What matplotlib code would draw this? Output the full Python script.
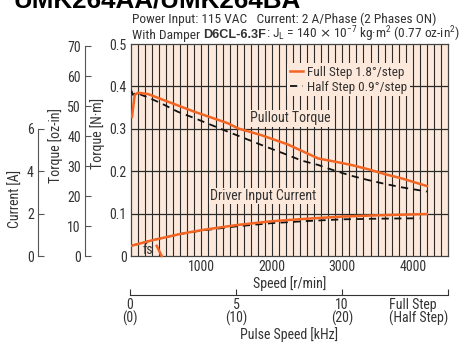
import matplotlib
matplotlib.use("Agg")
import matplotlib.pyplot as plt
from matplotlib import font_manager as fm

# pullout torque [N·m] vs speed [r/min]
speed_full = [14, 53, 99, 241, 430, 904, 1377, 1519, 1850, 2229, 2423, 2659, 2896, 3133, 3369, 3606, 3843, 4200]
torque_full = [0.328, 0.380, 0.385, 0.382, 0.370, 0.340, 0.313, 0.301, 0.285, 0.263, 0.248, 0.230, 0.2225, 0.2145, 0.2045, 0.193, 0.183, 0.165]
speed_half = [4, 28, 75, 146, 241, 430, 667, 904, 1140, 1377, 1614, 1850, 2186, 2423, 2659, 2896, 3133, 3369, 3606, 3843, 4200]
torque_half = [0.390, 0.380, 0.386, 0.380, 0.374, 0.360, 0.340, 0.325, 0.309, 0.293, 0.2775, 0.262, 0.2406, 0.225, 0.2146, 0.201, 0.189, 0.179, 0.170, 0.162, 0.152]

# driver input current [A]
speed_cur_full = [0, 300, 700, 1000, 1500, 2000, 2500, 3000, 3500, 4200]
current_full = [0.48, 0.74, 1.04, 1.22, 1.46, 1.64, 1.76, 1.86, 1.92, 1.98]
speed_cur_half = [0, 300, 700, 1000, 1500, 2000, 2500, 3000, 3500, 4100]
current_half = [0.48, 0.74, 1.04, 1.20, 1.40, 1.55, 1.65, 1.73, 1.76, 1.78]

# start frequency marker
fs_speed = [365, 435]
fs_torque = [0.024, 0.0]

speed_ticks = [1000, 2000, 3000, 4000]
nm_ticks = [0, 0.1, 0.2, 0.3, 0.4, 0.5]
nm_labels = ["0", "0.1", "0.2", "0.3", "0.4", "0.5"]
ozin_ticks = [0, 10, 20, 30, 40, 50, 60, 70]
amp_ticks = [0, 2, 4, 6]
khz_ticks = [0, 5, 10, 15]
khz_labels = ["0\n(0)", "5\n(10)", "10\n(20)", "Full Step\n(Half Step)"]

installed = {f.name for f in fm.fontManager.ttflist}
FONT = next((f for f in ["Roboto Condensed", "Archivo Narrow", "PT Sans Narrow",
                         "Sofia Sans Semi Condensed", "Liberation Sans Narrow", "Roboto"]
             if f in installed), "DejaVu Sans")
plt.rcParams["font.family"] = [FONT, "DejaVu Sans"]
TXT = "#333333"
ORANGE = "#f26522"
BG = "#fde9dc"
FS = 10

W, H = 465, 342
fig = plt.figure(figsize=(W / 100, H / 100), dpi=100)

left, right, top, bottom = 131, 448, 44, 256
ax = fig.add_axes([left / W, 1 - bottom / H, (right - left) / W, (bottom - top) / H])
ax.set_facecolor(BG)
ax.set_xlim(0, 4500)
ax.set_ylim(0, 0.5)
for x in range(100, 4500, 100):
    ax.axvline(x, color="#2a2a2a", lw=0.8, zorder=1)
for y in nm_ticks[1:-1]:
    ax.axhline(y, color="#2a2a2a", lw=0.9, zorder=1)
for s in ax.spines.values():
    s.set_color("#444444")
    s.set_linewidth(0.9)
ax.set_xticks(speed_ticks)
ax.set_yticks(nm_ticks)
ax.set_yticklabels(nm_labels)
ax.tick_params(length=0, labelsize=FS, colors=TXT, pad=3)
ax.set_xlabel("Speed [r/min]", fontsize=FS, color=TXT, labelpad=1)
ax.set_ylabel("Torque [N·m]", fontsize=FS, color=TXT, labelpad=3, y=0.58)

ax.plot(speed_full, torque_full, color=ORANGE, lw=1.8, zorder=4, label="Full Step 1.8°/step")
ax.plot(speed_half, torque_half, color="#111111", lw=1.3, ls=(0, (4, 3)), zorder=3, label="Half Step 0.9°/step")
cur_to_nm = 0.5 / 10
ax.plot(speed_cur_full, [c * cur_to_nm for c in current_full], color=ORANGE, lw=1.8, zorder=4)
ax.plot(speed_cur_half, [c * cur_to_nm for c in current_half], color="#111111", lw=1.3, ls=(0, (4, 3)), zorder=3)
ax.plot(fs_speed, fs_torque, color=ORANGE, lw=1.8, zorder=4, clip_on=False)

ax.text(234, 0.013, "fs", fontsize=FS, color=TXT, ha="center", va="center", zorder=5)
box = dict(facecolor=BG, edgecolor="none", pad=1)
ax.text(2257, 0.325, "Pullout Torque", fontsize=FS, color=TXT, ha="center", va="center", bbox=box, zorder=5)
ax.text(1874, 0.1415, "Driver Input Current", fontsize=FS, color=TXT, ha="center", va="center", bbox=box, zorder=5)

leg = ax.legend(loc="upper right", bbox_to_anchor=(0.88, 0.91), fontsize=FS - 0.5, frameon=True,
                handlelength=1.0, handletextpad=0.3, borderpad=0.2, labelspacing=0.15,
                borderaxespad=0)
leg.get_frame().set_facecolor(BG)
leg.get_frame().set_edgecolor("none")
leg.get_frame().set_alpha(1)
leg.set_zorder(6)
for t in leg.get_texts():
    t.set_color(TXT)


def side_axis(ylim, spine_x, bounds, ticks, label, label_y):
    a = ax.twinx()
    a.set_ylim(*ylim)
    a.spines["left"].set_position(("axes", (spine_x - left) / (right - left)))
    a.spines["left"].set_bounds(*bounds)
    a.spines["left"].set_color("#555555")
    for k in ("right", "top", "bottom"):
        a.spines[k].set_visible(False)
    a.yaxis.set_ticks_position("left")
    a.yaxis.set_label_position("left")
    a.set_yticks(ticks)
    a.tick_params(axis="y", direction="in", length=4, labelsize=FS, colors=TXT, pad=3, color="#555555")
    a.set_ylabel(label, fontsize=FS, color=TXT, labelpad=3, y=label_y)
    return a


side_axis((0, 0.5 * 141.612), 85, (0, 70), ozin_ticks, "Torque [oz-in]", 0.52)
side_axis((0, 10), 38, (0, 6), amp_ticks, "Current [A]", 0.27)

# pulse speed axis
ax_k = fig.add_axes([130 / W, 1 - 295 / H, (448 - 130) / W, 0.001])
ax_k.set_xlim(0, 15)
ax_k.set_yticks([])
ax_k.patch.set_visible(False)
for k in ("left", "right", "top"):
    ax_k.spines[k].set_visible(False)
ax_k.spines["bottom"].set_color("#333333")
ax_k.set_xticks(khz_ticks)
ax_k.set_xticklabels(khz_labels, linespacing=0.9)
ax_k.tick_params(axis="x", direction="in", length=4, labelsize=FS, colors=TXT, pad=2, color="#333333")
lab = ax_k.get_xticklabels()[-1]
lab.set_horizontalalignment("right")
lab.set_multialignment("left")
ax_k.set_xlabel("Pulse Speed [kHz]", fontsize=FS, color=TXT, labelpad=1)

# header
fig.canvas.draw()
r = fig.canvas.get_renderer()


def fit(t, width_px):
    w = t.get_window_extent(renderer=r).width
    t.set_fontsize(t.get_fontsize() * width_px / w)


title = fig.text(13 / W, 1 - 8 / H, "UMK264AA/UMK264BA", fontsize=19, fontweight="bold",
                 color="black", va="baseline", family="Liberation Sans")
fit(title, 287)
line1 = fig.text(132 / W, 1 - 23 / H, "Power Input: 115 VAC   Current: 2 A/Phase (2 Phases ON)",
                 fontsize=FS, color=TXT, va="baseline")
fit(line1, 301)
size1 = line1.get_fontsize()

x0 = 132
base = 1 - 38.5 / H
parts = [
    ("With Damper ", dict(fontsize=size1)),
    ("D6CL-6.3F", dict(fontsize=size1 * 0.95, fontweight="bold", family="Liberation Sans")),
    (r": J$_\mathregular{L}$ = 140 $\times$ 10$^{\mathregular{-7}}$ kg·m$^\mathregular{2}$ (0.77 oz-in$^\mathregular{2}$)",
     dict(fontsize=size1)),
]
for s, kw in parts:
    t = fig.text(x0 / W, base, s, color=TXT, va="baseline", **kw)
    x0 += t.get_window_extent(renderer=r).width

fig.savefig("out.png", dpi=100)
